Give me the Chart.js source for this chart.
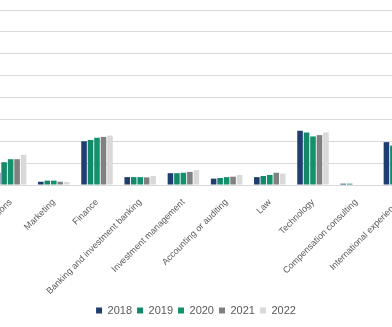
<!DOCTYPE html>
<html>
<head>
<meta charset="utf-8">
<script src="https://cdn.jsdelivr.net/npm/chart.js@4"></script>
<style>
  html, body { margin: 0; padding: 0; background: #ffffff; overflow: hidden; width: 392px; height: 327px; }
  #wrap { position: absolute; left: -51px; top: 0; width: 494px; height: 327px; }
</style>
</head>
<body>
<div id="wrap"><canvas id="c" width="494" height="327"></canvas></div>
<script>
const categories = [
  "Operations",
  "Marketing",
  "Finance",
  "Banking and investment banking",
  "Investment management",
  "Accounting or auditing",
  "Law",
  "Technology",
  "Compensation consulting",
  "International experience"
];
const seriesNames = ["2018", "2019", "2020", "2021", "2022"];
const v2018 = [2.8, 0.75, 10.0, 1.8, 2.7, 1.45, 1.8, 12.4, 0.3, 9.8];
const v2019 = [5.2, 1.0, 10.3, 1.8, 2.7, 1.6, 2.05, 12.0, 0.3, 9.0];
const v2020 = [5.9, 1.0, 10.8, 1.8, 2.8, 1.8, 2.3, 11.1, 0, 8.6];
const v2021 = [5.9, 0.75, 11.0, 1.75, 3.0, 1.9, 2.8, 11.4, 0, 8.8];
const v2022 = [6.9, 0.7, 11.3, 2.05, 3.4, 2.3, 2.6, 12.0, 0, 9.2];
const yTicks = [0, 5, 10, 15, 20, 25, 30, 35, 40];

const colors = ["#1f3d6e", "#13896a", "#13906c", "#808080", "#d9d9d9"];
const allValues = [v2018, v2019, v2020, v2021, v2022];

new Chart(document.getElementById("c"), {
  type: "bar",
  data: {
    labels: categories,
    datasets: seriesNames.map((n, i) => ({
      label: n,
      data: allValues[i],
      backgroundColor: colors[i],
      borderWidth: 0,
      categoryPercentage: 0.75,
      barPercentage: 0.86
    }))
  },
  options: {
    responsive: false,
    animation: false,
    devicePixelRatio: 1,
    layout: { padding: { top: 10, right: 22, bottom: 1, left: 22 } },
    plugins: {
      tooltip: { enabled: false },
      legend: {
        position: "bottom",
        labels: {
          usePointStyle: true,
          pointStyle: "rect",
          boxWidth: 6,
          boxHeight: 6,
          padding: 5,
          color: "#595959",
          font: { family: "'Liberation Sans', Arial, sans-serif", size: 11 }
        }
      }
    },
    scales: {
      x: {
        grid: { display: false },
        border: { display: false },
        ticks: {
          color: "#595959",
          font: { family: "'Liberation Sans', Arial, sans-serif", size: 9 },
          minRotation: 45,
          maxRotation: 45,
          padding: 4,
          autoSkip: false
        },
        afterFit: (s) => { s.height = 115; }
      },
      y: {
        min: 0,
        max: 40,
        afterBuildTicks: (s) => { s.ticks = yTicks.map(v => ({ value: v })); },
        grid: { color: "#d9d9d9", drawTicks: false },
        border: { display: false },
        ticks: { display: false },
        afterFit: (s) => { s.width = 18; }
      }
    }
  }
});
</script>
</body>
</html>
